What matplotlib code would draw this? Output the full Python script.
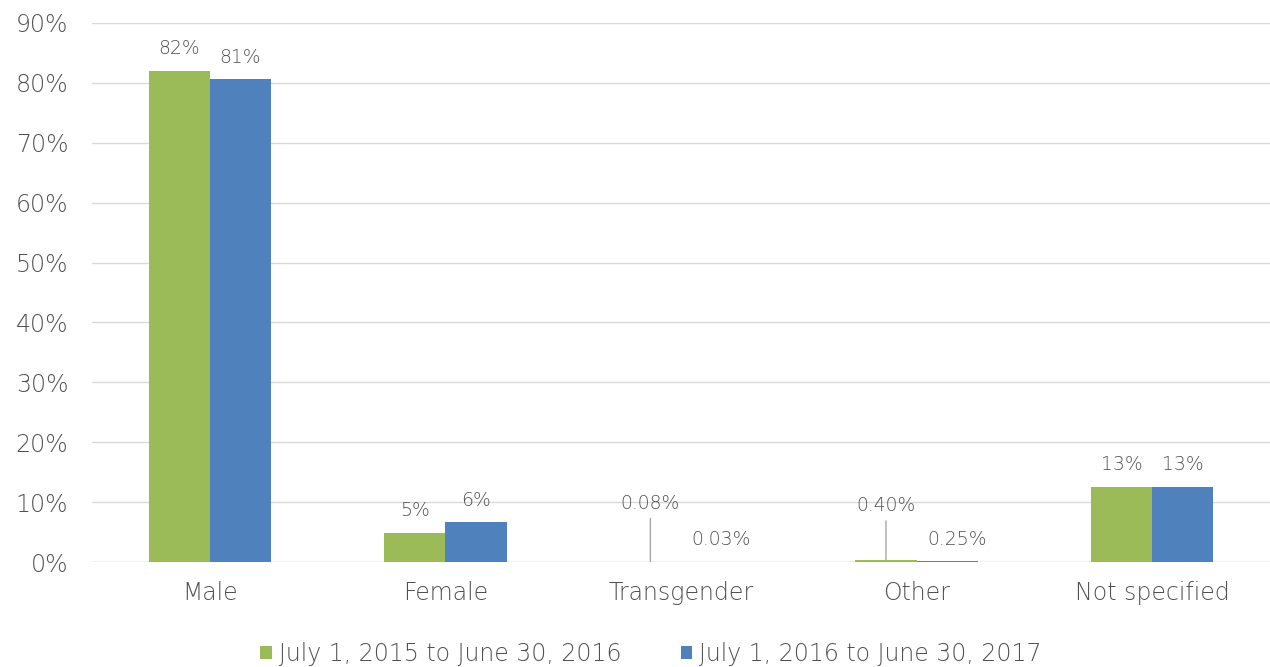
import matplotlib
matplotlib.use("Agg")
import matplotlib.pyplot as plt
import numpy as np

categories = ["Male", "Female", "Transgender", "Other", "Not specified"]
series_names = ["July 1, 2015 to June 30, 2016", "July 1, 2016 to June 30, 2017"]
values_2016 = [82.0, 4.9, 0.08, 0.40, 12.6]
values_2017 = [80.6, 6.6, 0.03, 0.25, 12.6]
labels_2016 = ["82%", "5%", "0.08%", "0.40%", "13%"]
labels_2017 = ["81%", "6%", "0.03%", "0.25%", "13%"]
yticks = [0, 10, 20, 30, 40, 50, 60, 70, 80, 90]

green = "#9bbb59"
blue = "#4f81bd"
txt = "#505050"

plt.rcParams['font.family'] = ['DejaVu Sans']
plt.rcParams['font.weight'] = 'light'

fig = plt.figure(figsize=(12.7, 6.67), dpi=100)
ax = fig.add_axes([92/1270, 1 - 562/667, (1270 - 92)/1270, (562 - 23)/667])

x = np.arange(len(categories))
w = 0.26
b1 = ax.bar(x - w/2, values_2016, w, color=green, label=series_names[0], zorder=3)
b2 = ax.bar(x + w/2, values_2017, w, color=blue, label=series_names[1], zorder=3)

ax.set_xlim(-0.5, len(categories) - 0.5)
ax.set_ylim(0, 90)
ax.set_yticks(yticks)
ax.set_yticklabels([f"{t}%" for t in yticks], fontsize=17, color=txt)
ax.set_xticks(x)
ax.set_xticklabels(categories, fontsize=17, color=txt)
ax.tick_params(axis='both', length=0)
ax.tick_params(axis='y', pad=17)
ax.tick_params(axis='x', pad=14)
ax.yaxis.grid(True, color="#d9d9d9", linewidth=1, zorder=0)
for s in ax.spines.values():
    s.set_visible(False)
ax.axhline(0, color="#d9d9d9", linewidth=1, zorder=2)

lab_fs = 13.5
small = {"Transgender", "Other"}
for i, c in enumerate(categories):
    if c in small:
        ytxt = 8.2 if c == "Transgender" else 7.8
        ax.annotate(labels_2016[i], xy=(x[i] - w/2, values_2016[i]),
                    xytext=(x[i] - w/2, ytxt), ha='center', va='bottom',
                    fontsize=lab_fs, color=txt,
                    arrowprops=dict(arrowstyle='-', color="#a6a6a6", lw=1,
                                    shrinkA=2, shrinkB=0))
        ax.text(x[i] + w/2 + 0.04, 3.7, labels_2017[i], ha='center', va='center',
                fontsize=lab_fs, color=txt)
    else:
        ax.annotate(labels_2016[i], xy=(x[i] - w/2, values_2016[i]),
                    xytext=(0, 9), textcoords='offset points', ha='center',
                    va='bottom', fontsize=lab_fs, color=txt)
        ax.annotate(labels_2017[i], xy=(x[i] + w/2, values_2017[i]),
                    xytext=(0, 9), textcoords='offset points', ha='center',
                    va='bottom', fontsize=lab_fs, color=txt)

leg = fig.legend(handles=[b1, b2], labels=series_names, loc='center',
                 bbox_to_anchor=(651/1270, 1 - 654/667), ncol=2, frameon=False,
                 fontsize=17, handlelength=0.5, handleheight=0.5,
                 handletextpad=0.3, columnspacing=2.5)
for t in leg.get_texts():
    t.set_color(txt)

fig.savefig("out.png", dpi=100, facecolor="white")
